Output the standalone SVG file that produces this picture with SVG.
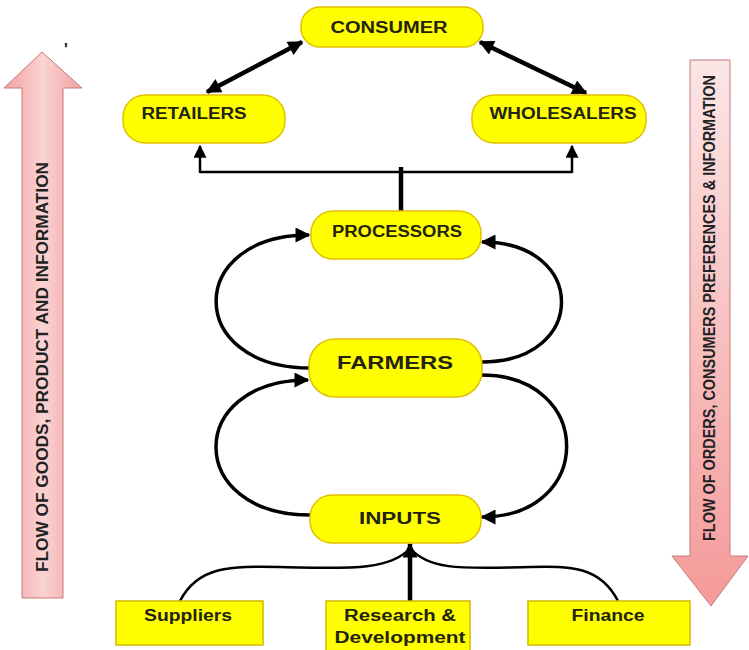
<svg xmlns="http://www.w3.org/2000/svg" width="749" height="650" viewBox="0 0 749 650">
<defs>
<linearGradient id="gL" x1="0" y1="0" x2="1" y2="0">
<stop offset="0" stop-color="#f2a0a0"/><stop offset="0.5" stop-color="#fbd3d3"/><stop offset="1" stop-color="#f2a0a0"/>
</linearGradient>
<linearGradient id="gR" x1="0" y1="0" x2="0" y2="1">
<stop offset="0" stop-color="#fbe6e6"/><stop offset="1" stop-color="#f59a9a"/>
</linearGradient>
<marker id="ah" viewBox="0 0 10 10" refX="9" refY="5" markerWidth="17" markerHeight="15" markerUnits="userSpaceOnUse" orient="auto-start-reverse">
<path d="M0,0 L10,5 L0,10 Z" fill="#000"/>
</marker>
<marker id="ahs" viewBox="0 0 10 10" refX="9" refY="5" markerWidth="14" markerHeight="13" markerUnits="userSpaceOnUse" orient="auto-start-reverse">
<path d="M0,0 L10,5 L0,10 Z" fill="#000"/>
</marker>
</defs>
<style>
.pill{fill:#ffff00;stroke:#e2c000;stroke-width:1.5}
.box{fill:#ffff00;stroke:#d4b800;stroke-width:1.5}
.t{font-family:"Liberation Sans",Arial,sans-serif;font-weight:bold;font-size:16px;fill:#23230f;text-anchor:middle}
.big{font-size:19px}
.side{font-family:"Liberation Sans",Arial,sans-serif;font-weight:bold;font-size:16px;fill:#222;text-anchor:middle}
.c{fill:none;stroke:#000;stroke-width:3.5}
.cd{fill:none;stroke:#000;stroke-width:4.5}
.cl{fill:none;stroke:#000;stroke-width:2.5}
.sa{stroke:#c77a7a;stroke-width:1}
</style>
<rect width="749" height="650" fill="#fff"/>
<g id="side-left">
<path class="sa" d="M22,598 L22,88 L4,88 L42,52 L82,88 L63,88 L63,598 Z" fill="url(#gL)"/>
<text class="side" transform="translate(48,367) rotate(-90)" textLength="410" lengthAdjust="spacingAndGlyphs">FLOW OF GOODS, PRODUCT AND INFORMATION</text>
<text class="side" x="66" y="55" font-size="15">'</text>
</g>
<g id="side-right">
<path class="sa" d="M690,60 L730,60 L730,556 L748,556 L711,606 L672,556 L690,556 Z" fill="url(#gR)"/>
<text class="side" transform="translate(715,308) rotate(-90)" textLength="466" lengthAdjust="spacingAndGlyphs">FLOW OF ORDERS, CONSUMERS PREFERENCES &amp; INFORMATION</text>
</g>
<g id="connectors">
<line class="cd" x1="207" y1="92" x2="302" y2="42" marker-start="url(#ah)" marker-end="url(#ah)"/>
<line class="cd" x1="480" y1="42" x2="586" y2="93" marker-start="url(#ah)" marker-end="url(#ah)"/>
<path class="cl" d="M200,172 L572,172"/>
<line class="cl" x1="200" y1="173" x2="200" y2="146" marker-end="url(#ahs)"/>
<line class="cl" x1="572" y1="173" x2="572" y2="146" marker-end="url(#ahs)"/>
<line class="cd" x1="401" y1="167" x2="401" y2="211"/>
<path class="c" d="M310,368 C185,368 185,235 309,235" marker-end="url(#ah)"/>
<path class="c" d="M482,362 C588,362 588,242 482,242" marker-end="url(#ah)"/>
<path class="c" d="M310,515 C185,515 185,380 308,380" marker-end="url(#ah)"/>
<path class="c" d="M481,375 C595,375 595,517 482,517" marker-end="url(#ah)"/>
<path class="cl" d="M180,601 C198,566 230,566 280,567 C340,568 390,572 410,548"/>
<path class="cl" d="M618,601 C600,566 570,566 530,567 C470,568 430,572 410,548"/>
<line class="cd" x1="410" y1="601" x2="410" y2="544" marker-end="url(#ah)"/>
</g>
<g id="consumer"><rect class="pill" x="301" y="7" width="182" height="40" rx="19"/><text class="t" x="389" y="33" textLength="117" lengthAdjust="spacingAndGlyphs">CONSUMER</text></g>
<g id="retailers"><rect class="pill" x="123" y="95" width="162" height="48" rx="22"/><text class="t" x="194" y="119" textLength="105" lengthAdjust="spacingAndGlyphs">RETAILERS</text></g>
<g id="wholesalers"><rect class="pill" x="472" y="95" width="174" height="48" rx="22"/><text class="t" x="563" y="119" textLength="147" lengthAdjust="spacingAndGlyphs">WHOLESALERS</text></g>
<g id="processors"><rect class="pill" x="311" y="211" width="170" height="48" rx="22"/><text class="t" x="397" y="237" textLength="130" lengthAdjust="spacingAndGlyphs">PROCESSORS</text></g>
<g id="farmers"><rect class="pill" x="309" y="339" width="173" height="58" rx="26"/><text class="t big" x="395" y="369" textLength="116" lengthAdjust="spacingAndGlyphs">FARMERS</text></g>
<g id="inputs"><rect class="pill" x="310" y="495" width="171" height="48" rx="22"/><text class="t" x="400" y="524" textLength="82" lengthAdjust="spacingAndGlyphs">INPUTS</text></g>
<g id="suppliers"><rect class="box" x="116" y="601" width="147" height="44"/><text class="t" x="188" y="621" textLength="88" lengthAdjust="spacingAndGlyphs">Suppliers</text></g>
<g id="research"><rect class="box" x="326" y="601" width="144" height="52"/><text class="t" x="400" y="621" textLength="112" lengthAdjust="spacingAndGlyphs">Research &amp;</text><text class="t" x="400" y="643" textLength="131" lengthAdjust="spacingAndGlyphs">Development</text></g>
<g id="finance"><rect class="box" x="528" y="601" width="162" height="44"/><text class="t" x="608" y="621" textLength="73" lengthAdjust="spacingAndGlyphs">Finance</text></g>
</svg>
